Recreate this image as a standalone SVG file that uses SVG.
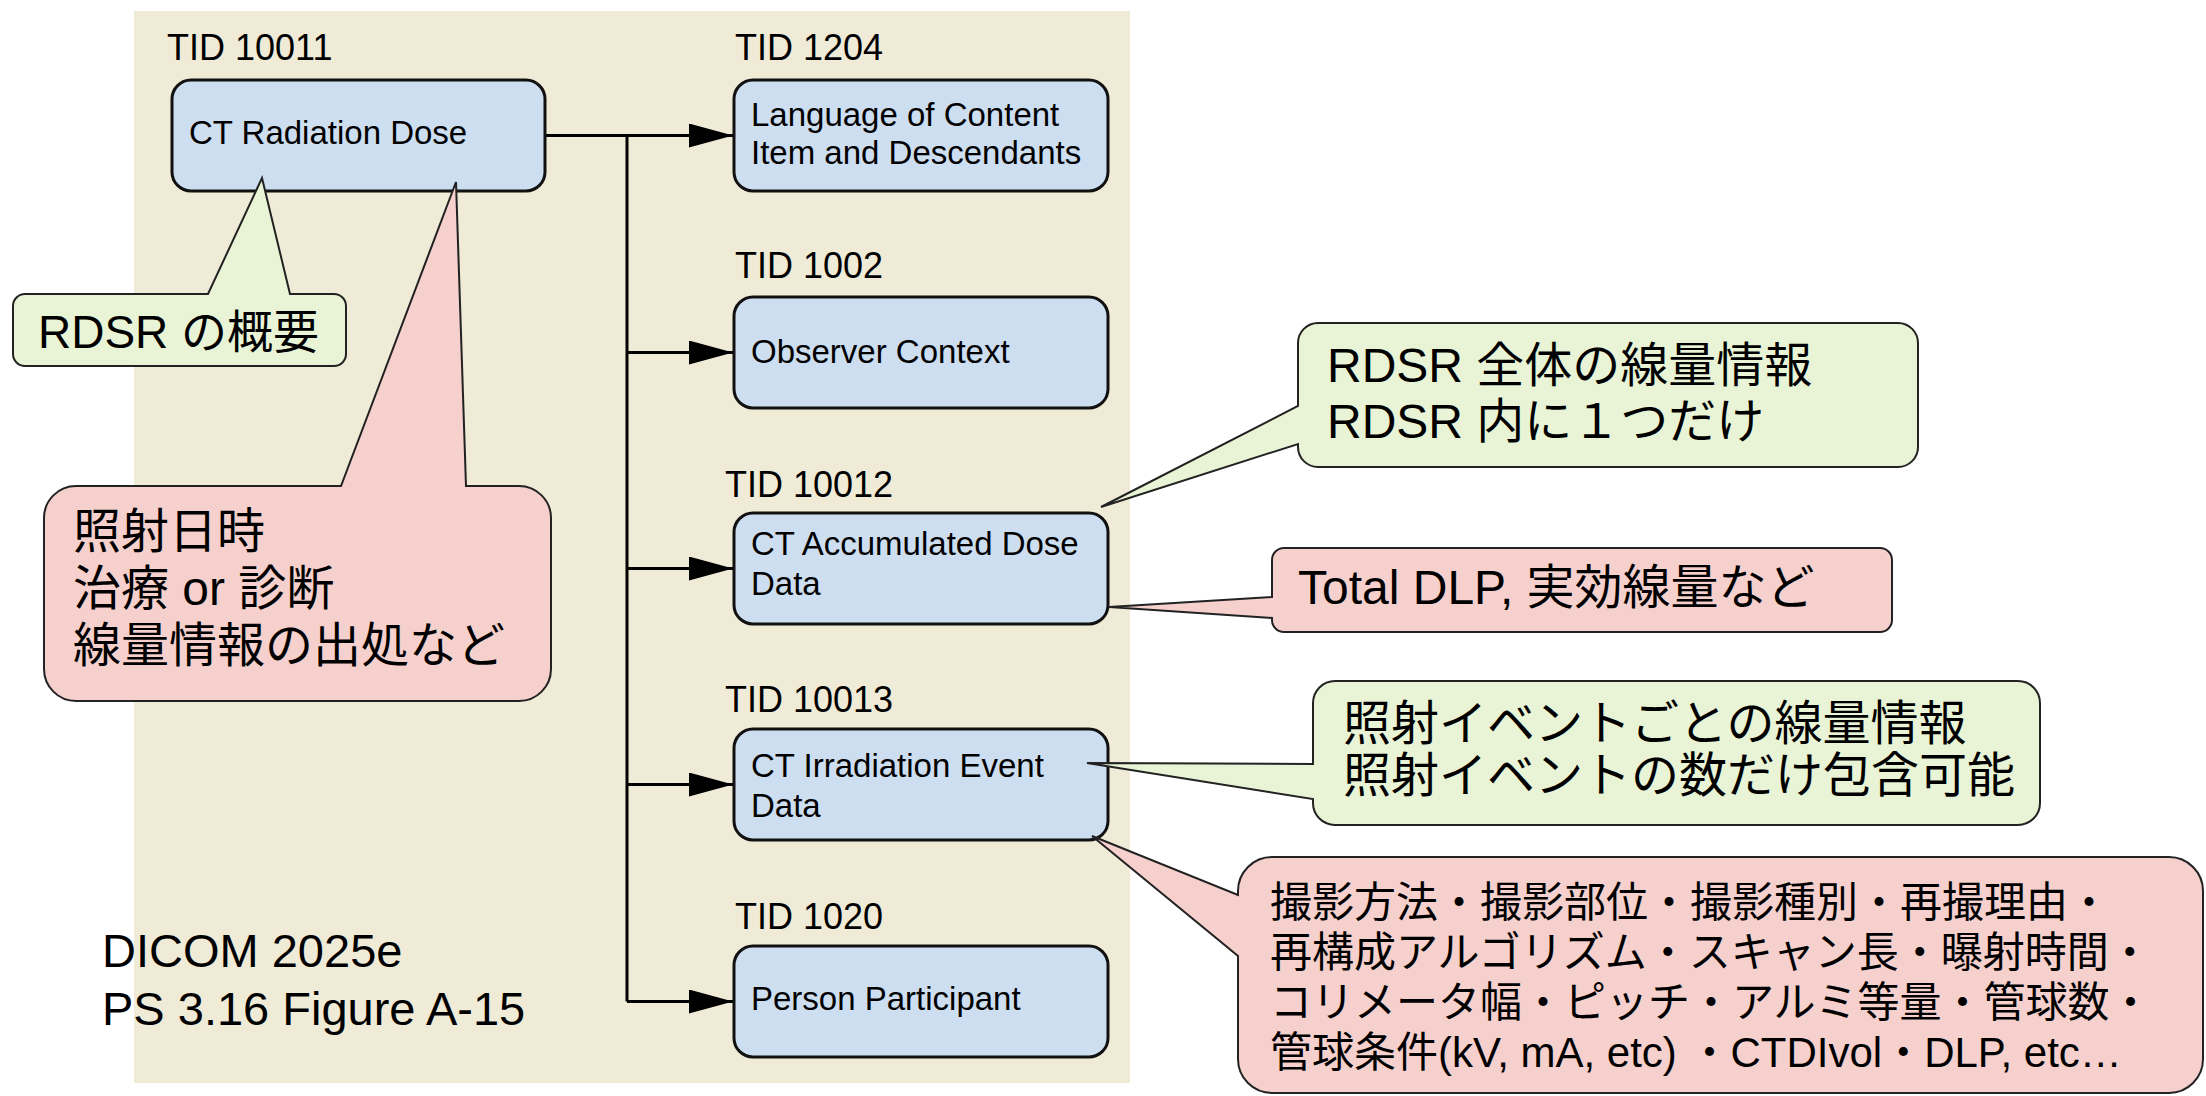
<svg xmlns="http://www.w3.org/2000/svg" width="2206" height="1096" viewBox="0 0 2206 1096">
<defs>
<style>
.bg{fill:#f0ebd7}
.node{fill:#cddef0;stroke:#111;stroke-width:3}
.conn{stroke:#000;stroke-width:3;fill:none}
.cg{fill:#e8f4d5;stroke:#222;stroke-width:2;stroke-linejoin:miter}
.cp{fill:#f5d0cc;stroke:#222;stroke-width:2;stroke-linejoin:miter}
text{font-family:"Liberation Sans","Noto Sans CJK JP",sans-serif;fill:#000}
.tid{font-size:36px}
.lbl{font-size:33px}
.big{font-size:48px}
.cap{font-size:47px}
.mid{font-size:46px}
.sm{font-size:42px}
</style>
<marker id="ah" markerUnits="userSpaceOnUse" markerWidth="46" markerHeight="26" refX="44" refY="12" orient="auto">
<path d="M0,0 L44,12 L0,24 Z" fill="#000"/>
</marker>
</defs>
<rect class="bg" x="134" y="11" width="996" height="1072"/>
<g id="connectors">
<path class="conn" d="M545,135.5 H733" marker-end="url(#ah)"/>
<path class="conn" d="M627,135.5 V1001.5"/>
<path class="conn" d="M627,352.5 H733" marker-end="url(#ah)"/>
<path class="conn" d="M627,568.5 H733" marker-end="url(#ah)"/>
<path class="conn" d="M627,784.5 H733" marker-end="url(#ah)"/>
<path class="conn" d="M627,1001.5 H733" marker-end="url(#ah)"/>
</g>
<g id="tid10011">
<text class="tid" x="167" y="60">TID 10011</text>
<rect class="node" x="172" y="80" width="373" height="111" rx="19"/>
<text class="lbl" x="189" y="144">CT Radiation Dose</text>
</g>
<g id="tid1204">
<text class="tid" x="735" y="60">TID 1204</text>
<rect class="node" x="734" y="80" width="374" height="111" rx="19"/>
<text class="lbl" x="751" y="126">Language of Content</text>
<text class="lbl" x="751" y="164">Item and Descendants</text>
</g>
<g id="tid1002">
<text class="tid" x="735" y="278">TID 1002</text>
<rect class="node" x="734" y="297" width="374" height="111" rx="19"/>
<text class="lbl" x="751" y="363">Observer Context</text>
</g>
<g id="tid10012">
<text class="tid" x="725" y="497">TID 10012</text>
<rect class="node" x="734" y="513" width="374" height="111" rx="19"/>
<text class="lbl" x="751" y="555">CT Accumulated Dose</text>
<text class="lbl" x="751" y="595">Data</text>
</g>
<g id="tid10013">
<text class="tid" x="725" y="712">TID 10013</text>
<rect class="node" x="734" y="729" width="374" height="111" rx="19"/>
<text class="lbl" x="751" y="777">CT Irradiation Event</text>
<text class="lbl" x="751" y="817">Data</text>
</g>
<g id="tid1020">
<text class="tid" x="735" y="929">TID 1020</text>
<rect class="node" x="734" y="946" width="374" height="111" rx="19"/>
<text class="lbl" x="751" y="1010">Person Participant</text>
</g>
<g id="note-overview">
<path class="cg" d="M25,294 H208 L262,178 L290,294 H334 A12,12 0 0 1 346,306 V354 A12,12 0 0 1 334,366 H25 A12,12 0 0 1 13,354 V306 A12,12 0 0 1 25,294 Z"/>
<text class="mid" x="38" y="348">RDSR の概要</text>
</g>
<g id="note-header">
<path class="cp" d="M76,486 H341 L456,182 L466,486 H519 A32,32 0 0 1 551,518 V669 A32,32 0 0 1 519,701 H76 A32,32 0 0 1 44,669 V518 A32,32 0 0 1 76,486 Z"/>
<text class="big" x="73" y="548">照射日時</text>
<text class="big" x="73" y="605">治療 or 診断</text>
<text class="big" x="73" y="662">線量情報の出処など</text>
</g>
<g id="note-accum">
<path class="cg" d="M1318,323 H1898 A20,20 0 0 1 1918,343 V447 A20,20 0 0 1 1898,467 H1318 A20,20 0 0 1 1298,447 V444 L1101,507 L1298,406 V343 A20,20 0 0 1 1318,323 Z"/>
<text class="big" x="1327" y="382">RDSR 全体の線量情報</text>
<text class="big" x="1327" y="438">RDSR 内に１つだけ</text>
</g>
<g id="note-accum-items">
<path class="cp" d="M1284,548 H1880 A12,12 0 0 1 1892,560 V620 A12,12 0 0 1 1880,632 H1284 A12,12 0 0 1 1272,620 V618 L1109,607 L1272,597 V560 A12,12 0 0 1 1284,548 Z"/>
<text class="big" x="1298" y="604">Total DLP, 実効線量など</text>
</g>
<g id="note-event">
<path class="cg" d="M1335,681 H2018 A22,22 0 0 1 2040,703 V803 A22,22 0 0 1 2018,825 H1335 A22,22 0 0 1 1313,803 V799 L1087,763 L1313,764 V703 A22,22 0 0 1 1335,681 Z"/>
<text class="big" x="1343" y="740">照射イベントごとの線量情報</text>
<text class="big" x="1343" y="792">照射イベントの数だけ包含可能</text>
</g>
<g id="note-event-items">
<path class="cp" d="M1272,857 H2169 A34,34 0 0 1 2203,891 V1059 A34,34 0 0 1 2169,1093 H1272 A34,34 0 0 1 1238,1059 V956 L1092,836 L1238,895 V891 A34,34 0 0 1 1272,857 Z"/>
<text class="sm" x="1270" y="917">撮影方法・撮影部位・撮影種別・再撮理由・</text>
<text class="sm" x="1270" y="967">再構成アルゴリズム・スキャン長・曝射時間・</text>
<text class="sm" x="1270" y="1017">コリメータ幅・ピッチ・アルミ等量・管球数・</text>
<text class="sm" x="1270" y="1067">管球条件(kV, mA, etc) ・CTDIvol・DLP, etc…</text>
</g>
<g id="caption">
<text class="cap" x="102" y="967">DICOM 2025e</text>
<text class="cap" x="102" y="1025">PS 3.16 Figure A-15</text>
</g>
</svg>
